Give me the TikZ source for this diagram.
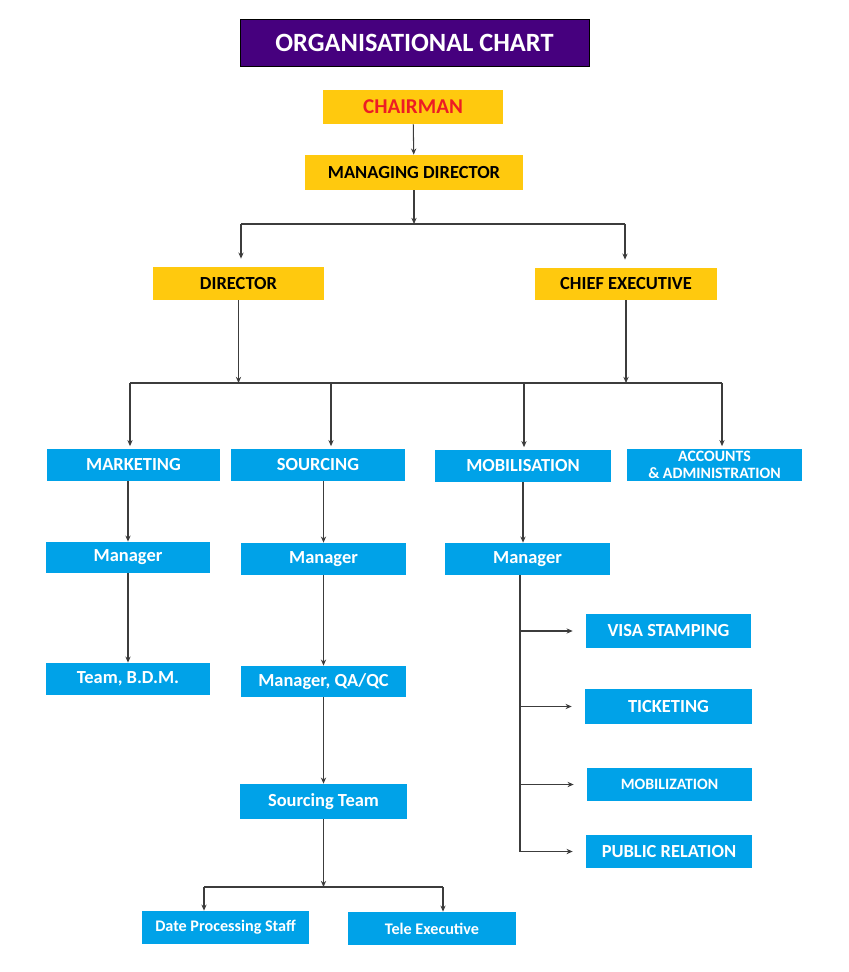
\documentclass[tikz,border=0pt]{standalone}
\usepackage{fontspec}
\setmainfont{Carlito}
\usepackage{tikz}
\usetikzlibrary{arrows.meta,positioning}
\definecolor{gold}{HTML}{FFC90E}
\definecolor{sky}{HTML}{00A2E8}
\definecolor{royal}{HTML}{46007E}
\definecolor{chairred}{HTML}{ED1C24}
\definecolor{wire}{HTML}{3C3C3C}
\tikzset{
    goldbox/.style={fill=gold, inner sep=0pt, font=\fontsize{10.5}{12}\selectfont\bfseries},
    bluebox/.style={fill=sky, text=white, inner sep=0pt, font=\fontsize{10.5}{12}\selectfont\bfseries},
    arr/.style={draw=wire, line width=0.6pt, -{Stealth[length=3.5pt,width=3pt]}},
    wirel/.style={draw=wire, line width=0.6pt}
}

\begin{document}
\begin{tikzpicture}[x=0.02cm, y=-0.02cm]
    \useasboundingbox (0,0) rectangle (848,972);

    % Title
    \node[draw=black, fill=royal, text=white, inner sep=0pt, minimum width=6.98cm, minimum height=0.94cm,
          font=\fontsize{15}{18}\selectfont\bfseries] (title) at (414.5,42.5) {ORGANISATIONAL CHART};

    % Top levels
    \node[goldbox, text=chairred, minimum width=3.6cm, minimum height=0.68cm,
          font=\fontsize{12}{14}\selectfont\bfseries] (chair) at (413,107) {CHAIRMAN};
    \node[goldbox, minimum width=4.36cm, minimum height=0.70cm] (md) at (414,172.5) {MANAGING DIRECTOR};
    \node[goldbox, minimum width=3.42cm, minimum height=0.66cm] (dir) at (238.5,283.5) {DIRECTOR};
    \node[goldbox, minimum width=3.64cm, minimum height=0.64cm] (ce) at (626,284) {CHIEF EXECUTIVE};

    \draw[arr] (chair) -- (md);
    \coordinate (mdj) at (414,224);
    \coordinate (dirj) at (241,224);
    \coordinate (cej) at (625,224);
    \draw[arr] (md) -- (mdj);
    \draw[wirel] (dirj) -- (cej);
    \draw[arr, shorten >=0.16cm] (dirj) -- (dirj |- dir.north);
    \draw[arr, shorten >=0.16cm] (cej) -- (cej |- ce.north);

    % Departments
    \node[bluebox, minimum width=3.46cm, minimum height=0.64cm] (mkt) at (133.5,465) {MARKETING};
    \node[bluebox, minimum width=3.48cm, minimum height=0.64cm] (src) at (318,465) {SOURCING};
    \node[bluebox, minimum width=3.52cm, minimum height=0.64cm] (mob) at (523,466) {MOBILISATION};
    \node[bluebox, minimum width=3.50cm, minimum height=0.64cm, align=center,
          font=\fontsize{9}{9.5}\selectfont\bfseries] (acc) at (714.5,465) {ACCOUNTS\\\& ADMINISTRATION};

    \coordinate (midl) at (130,383);
    \coordinate (midr) at (722,383);
    \draw[arr] (dir) -- (dir |- midl);
    \draw[arr] (ce) -- (ce |- midl);
    \draw[wirel] (midl) -- (midr);
    \foreach \x/\n in {130/mkt, 331/src, 524/mob, 722/acc} {
        \coordinate (t\n) at (\x,383);
        \draw[arr, shorten >=0.05cm] (t\n) -- (t\n |- \n.north);
    }

    % Managers
    \node[bluebox, minimum width=3.28cm, minimum height=0.62cm] (mmgr) at (128,557.5) {Manager};
    \node[bluebox, minimum width=3.30cm, minimum height=0.64cm] (smgr) at (323.5,559) {Manager};
    \node[bluebox, minimum width=3.30cm, minimum height=0.64cm] (omgr) at (527.5,559) {Manager};
    \draw[arr] (mkt.south -| mmgr) -- (mmgr);
    \draw[arr] (src.south -| smgr) -- (smgr);
    \draw[arr] (mob) -- (mob |- omgr.north);

    % Marketing and sourcing teams
    \node[bluebox, minimum width=3.28cm, minimum height=0.64cm] (bdm) at (128,679) {Team, B.D.M.};
    \node[bluebox, minimum width=3.30cm, minimum height=0.62cm] (qa) at (323.5,681.5) {Manager, QA/QC};
    \node[bluebox, minimum width=3.34cm, minimum height=0.70cm] (st) at (323.5,801.5) {Sourcing Team};
    \draw[arr] (mmgr) -- (bdm);
    \draw[arr] (smgr) -- (qa);
    \draw[arr] (qa) -- (st);

    \node[bluebox, minimum width=3.34cm, minimum height=0.66cm,
          font=\fontsize{9.2}{11}\selectfont\bfseries] (dps) at (225.5,927.5) {Date Processing Staff};
    \node[bluebox, minimum width=3.36cm, minimum height=0.66cm,
          font=\fontsize{9.2}{11}\selectfont\bfseries] (te) at (432,928.5) {Tele Executive};
    \coordinate (stj) at (323.5,887);
    \coordinate (dpsj) at (204,887);
    \coordinate (tej) at (443,887);
    \draw[arr] (st) -- (stj);
    \draw[wirel] (dpsj) -- (tej);
    \draw[arr] (dpsj) -- (dpsj |- dps.north);
    \draw[arr] (tej) -- (tej |- te.north);

    % Mobilisation tasks
    \node[bluebox, minimum width=3.30cm, minimum height=0.68cm] (visa) at (668.5,631) {VISA STAMPING};
    \node[bluebox, minimum width=3.34cm, minimum height=0.70cm] (tick) at (668.5,706.5) {TICKETING};
    \node[bluebox, minimum width=3.30cm, minimum height=0.66cm,
          font=\fontsize{9}{11}\selectfont\bfseries] (mobz) at (669.5,784.5) {MOBILIZATION};
    \node[bluebox, minimum width=3.32cm, minimum height=0.66cm] (pr) at (669,851.5) {PUBLIC RELATION};
    \coordinate (mv) at (520,575);
    \draw[wirel] (mv) -- (mv |- pr);
    \foreach \n in {visa, tick, mobz, pr}
        \draw[arr, shorten >=0.26cm] (mv |- \n) -- (\n);
\end{tikzpicture}
\end{document}
